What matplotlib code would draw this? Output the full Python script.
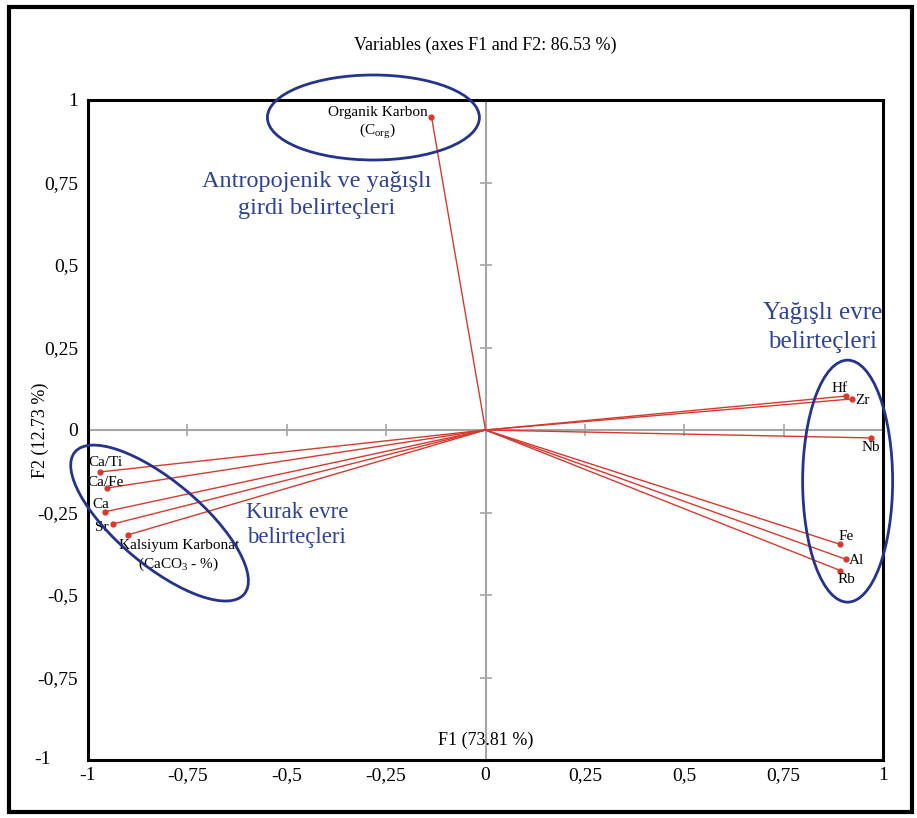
import matplotlib
matplotlib.use("Agg")
import matplotlib.pyplot as plt
import matplotlib.transforms as mtransforms
from matplotlib.patches import Ellipse, Rectangle

plt.rcParams['font.family'] = ['Liberation Serif', 'DejaVu Serif']
plt.rcParams['mathtext.fontset'] = 'custom'
plt.rcParams['mathtext.rm'] = 'Liberation Serif'

# ---- data ----
variables = ["Organik Karbon", "Ca/Ti", "Ca/Fe", "Ca", "Sr", "Kalsiyum Karbonat",
             "Hf", "Zr", "Nb", "Fe", "Al", "Rb"]
f1 = [-0.136, -0.969, -0.953, -0.958, -0.938, -0.900, 0.908, 0.921, 0.969, 0.891, 0.907, 0.893]
f2 = [0.950, -0.127, -0.176, -0.248, -0.285, -0.318, 0.103, 0.094, -0.024, -0.346, -0.392, -0.426]
labels = ["Organik Karbon\n(C$_{\\mathregular{org}}$)", "Ca/Ti", "Ca/Fe", "Ca", "Sr",
          "Kalsiyum Karbonat\n(CaCO$_{\\mathregular{3}}$ - %)",
          "Hf", "Zr", "Nb", "Fe", "Al", "Rb"]
# label offsets in pixels
offsets = [(-54, -7), (5, 9), (-1, 6), (-4, 7), (-11, -3), (51, -21),
           (-7, 8), (11, -2), (0, -10), (6, 8), (10, -1), (6, -9)]
ticks = [-1, -0.75, -0.5, -0.25, 0, 0.25, 0.5, 0.75, 1]
tick_labels = ["-1", "-0,75", "-0,5", "-0,25", "0", "0,25", "0,5", "0,75", "1"]
title = "Variables (axes F1 and F2: 86.53 %)"
xlabel = "F1 (73.81 %)"
ylabel = "F2 (12.73 %)"

red = "#d63a2f"
blue = "#24348c"
txtblue = "#2f4396"

fig = plt.figure(figsize=(9.17, 8.18), dpi=100)
ax = fig.add_axes([88/917, 58/818, 795/917, 660/818])
ax.set_xlim(-1, 1)
ax.set_ylim(-1, 1)

# zero lines with small ticks
ax.axhline(0, color="#a6a6a6", lw=1.5, zorder=1)
ax.axvline(0, color="#a6a6a6", lw=1.5, zorder=1)
tk = [t for t in ticks if t not in (-1, 0, 1)]
ax.plot(tk, [0]*len(tk), ls="none", marker="|", ms=8, mew=1.2, color="#a6a6a6", zorder=1)
ax.plot([0]*len(tk), tk, ls="none", marker="_", ms=8, mew=1.2, color="#a6a6a6", zorder=1)

# vectors
for x, y in zip(f1, f2):
    ax.plot([0, x], [0, y], color=red, lw=1.0, zorder=2)
ax.plot(f1, f2, ls="none", marker="o", ms=3.5, color=red, zorder=3)

for x, y, lab, (dx, dy) in zip(f1, f2, labels, offsets):
    ax.annotate(lab, (x, y), xytext=(dx, dy), textcoords="offset pixels",
                ha="center", va="center", fontsize=11, color="black",
                multialignment="center", zorder=4, linespacing=1.25)

# ellipses (sizes in inches, centers in data)
def ell(cx, cy, w, h, ang):
    tr = fig.dpi_scale_trans + mtransforms.ScaledTranslation(cx, cy, ax.transData)
    e = Ellipse((0, 0), w, h, angle=ang, transform=tr, fill=False,
                edgecolor=blue, lw=2.0, clip_on=False, zorder=5)
    ax.add_patch(e)

ell(-0.282, 0.947, 2.12, 0.85, 0)
ell(-0.820, -0.282, 2.21, 0.84, -40)
ell(0.911, -0.155, 0.90, 2.42, 0)

ax.text(-0.425, 0.712, "Antropojenik ve yağışlı\ngirdi belirteçleri", ha="center", va="center",
        fontsize=17.5, color=txtblue, linespacing=1.32, multialignment="center")
ax.text(0.848, 0.31, "Yağışlı evre\nbelirteçleri", ha="center", va="center",
        fontsize=18, color=txtblue, linespacing=1.38, multialignment="center")
ax.text(-0.475, -0.288, "Kurak evre\nbelirteçleri", ha="center", va="center",
        fontsize=16.5, color=txtblue, linespacing=1.25, multialignment="center")

ax.set_xticks(ticks)
ax.set_xticklabels(tick_labels)
ax.set_yticks(ticks)
ax.set_yticklabels(tick_labels)
ax.tick_params(length=0, labelsize=14, pad=5)
ax.tick_params(axis="y", pad=7)
ylabs = ax.get_yticklabels()
ylabs[0].set_transform(ylabs[0].get_transform() +
                       mtransforms.ScaledTranslation(-0.28, 0.02, fig.dpi_scale_trans))

for s in ax.spines.values():
    s.set_linewidth(2.2)
    s.set_color("black")

ax.text(0.5, 1 + 55/660, title, transform=ax.transAxes, ha="center", va="center", fontsize=13)
ax.text(0, -0.94, xlabel, ha="center", va="center", fontsize=13)
fig.text(40/917, 1 - 430/818, ylabel, rotation=90, ha="center", va="center", fontsize=13)

fig.patches.append(Rectangle((9/917, 6/818), 903/917, 805/818, transform=fig.transFigure,
                             fill=False, edgecolor="black", lw=3))

fig.savefig("out.png", dpi=100)
